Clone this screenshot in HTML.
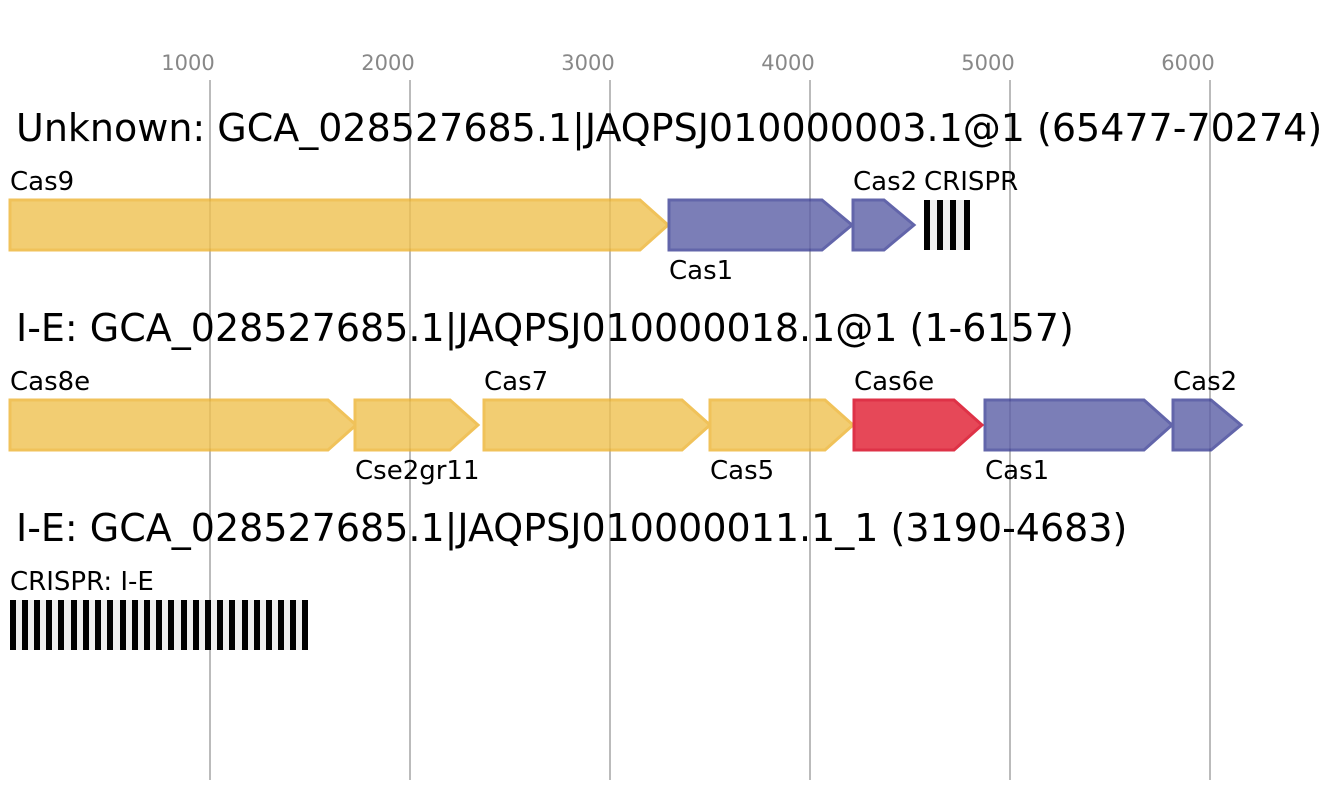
<!DOCTYPE html>
<html><head><meta charset="utf-8"><style>body{margin:0;background:#fff}svg{display:block}text{font-family:"DejaVu Sans","Liberation Sans",sans-serif}</style></head><body>
<svg width="1331" height="800" viewBox="0 0 1331 800" xmlns="http://www.w3.org/2000/svg">
<g stroke="#bbb" stroke-width="2">
<line x1="210" y1="80" x2="210" y2="780"/><line x1="410" y1="80" x2="410" y2="780"/><line x1="610" y1="80" x2="610" y2="780"/><line x1="810" y1="80" x2="810" y2="780"/><line x1="1010" y1="80" x2="1010" y2="780"/><line x1="1210" y1="80" x2="1210" y2="780"/>
</g>
<g fill="#888" font-size="21" text-anchor="middle">
<text x="188" y="70">1000</text><text x="388" y="70">2000</text><text x="588" y="70">3000</text><text x="788" y="70">4000</text><text x="988" y="70">5000</text><text x="1188" y="70">6000</text>
</g>
<g font-size="38" fill="#000">
<text x="16" y="141">Unknown: GCA_028527685.1|JAQPSJ010000003.1@1 (65477-70274)</text>
<text x="16" y="341">I-E: GCA_028527685.1|JAQPSJ010000018.1@1 (1-6157)</text>
<text x="16" y="541">I-E: GCA_028527685.1|JAQPSJ010000011.1_1 (3190-4683)</text>
</g>
<g stroke-width="3" opacity="0.8">
<g fill="#f0c14f" stroke="#edb431">
<polygon points="10,200 640,200 668,225 640,250 10,250"/>
<polygon points="10,400 328,400 356,425 328,450 10,450"/>
<polygon points="355,400 450,400 478,425 450,450 355,450"/>
<polygon points="484,400 682,400 710,425 682,450 484,450"/>
<polygon points="710,400 825,400 853,425 825,450 710,450"/>
</g>
<g fill="#5b5ea6" stroke="#3c3f96">
<polygon points="669,200 822,200 852,225 822,250 669,250"/>
<polygon points="853,200 884,200 914,225 884,250 853,250"/>
<polygon points="985,400 1144,400 1172,425 1144,450 985,450"/>
<polygon points="1173,400 1211,400 1241,425 1211,450 1173,450"/>
</g>
<g fill="#e01b2f" stroke="#d6001a">
<polygon points="854,400 954,400 982,425 954,450 854,450"/>
</g>
</g>
<rect x="924" y="200" width="46" height="50" fill="#eee"/>
<g fill="#000"><rect x="924" y="200" width="6" height="50"/><rect x="937" y="200" width="6" height="50"/><rect x="950" y="200" width="6" height="50"/><rect x="964" y="200" width="6" height="50"/></g>
<rect x="10" y="600" width="298" height="50" fill="#eee"/>
<g font-size="26" fill="#000">
<text x="10" y="190">Cas9</text><text x="669" y="279">Cas1</text><text x="853" y="190">Cas2</text><text x="924" y="190">CRISPR</text>
<text x="10" y="390">Cas8e</text><text x="355" y="479">Cse2gr11</text><text x="484" y="390">Cas7</text><text x="710" y="479">Cas5</text><text x="854" y="390">Cas6e</text><text x="985" y="479">Cas1</text><text x="1173" y="390">Cas2</text>
<text x="10" y="590">CRISPR: I-E</text>
</g>
<g fill="#000">
<rect x="10" y="600" width="6" height="50"/><rect x="22" y="600" width="6" height="50"/><rect x="34" y="600" width="6" height="50"/><rect x="46" y="600" width="6" height="50"/><rect x="58" y="600" width="6" height="50"/><rect x="71" y="600" width="6" height="50"/><rect x="83" y="600" width="6" height="50"/><rect x="95" y="600" width="6" height="50"/><rect x="107" y="600" width="6" height="50"/><rect x="120" y="600" width="6" height="50"/><rect x="132" y="600" width="6" height="50"/><rect x="144" y="600" width="6" height="50"/><rect x="156" y="600" width="6" height="50"/><rect x="168" y="600" width="6" height="50"/><rect x="181" y="600" width="6" height="50"/><rect x="193" y="600" width="6" height="50"/><rect x="205" y="600" width="6" height="50"/><rect x="217" y="600" width="6" height="50"/><rect x="229" y="600" width="6" height="50"/><rect x="242" y="600" width="6" height="50"/><rect x="254" y="600" width="6" height="50"/><rect x="266" y="600" width="6" height="50"/><rect x="278" y="600" width="6" height="50"/><rect x="290" y="600" width="6" height="50"/><rect x="302" y="600" width="6" height="50"/>
</g>
</svg>
</body></html>
